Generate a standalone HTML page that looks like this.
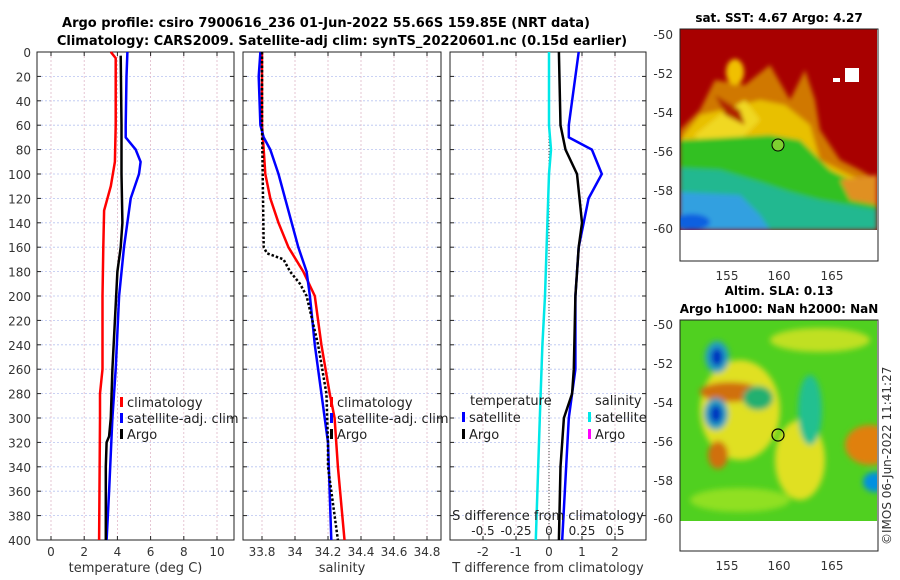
<!DOCTYPE html>
<html><head><meta charset="utf-8"><style>
body{margin:0;background:#fff;}
svg{display:block;font-family:"DejaVu Sans","Liberation Sans",sans-serif;}
</style></head><body>
<svg id="c" width="900" height="580" viewBox="0 0 900 580">
<defs>
<filter id="bl" x="-10%" y="-10%" width="120%" height="120%"><feGaussianBlur stdDeviation="2.5"/></filter>
<filter id="bl2" x="-10%" y="-10%" width="120%" height="120%"><feGaussianBlur stdDeviation="3"/></filter>
<clipPath id="m1"><rect x="680" y="29" width="197" height="201"/></clipPath>
<clipPath id="m2"><rect x="680" y="320" width="197" height="201"/></clipPath>
</defs>
<text x="326" y="27" text-anchor="middle" font-size="13" font-weight="bold">Argo profile: csiro 7900616_236 01-Jun-2022 55.66S 159.85E (NRT data)</text>
<text x="342" y="45" text-anchor="middle" font-size="13" font-weight="bold">Climatology: CARS2009. Satellite-adj clim: synTS_20220601.nc (0.15d earlier)</text>

<g>
<text x="779" y="22" text-anchor="middle" font-size="12" font-weight="bold">sat. SST: 4.67 Argo: 4.27</text>
<g clip-path="url(#m1)">
<rect x="680" y="29" width="197" height="201" fill="#a80000"/>
<g filter="url(#bl)">
<path d="M680 130 L700 110 L715 80 L745 85 L770 65 L790 100 L805 70 L815 100 L820 130 L840 160 L860 170 L877 180 L877 230 L680 230Z" fill="#d07800"/>
<path d="M680 140 L700 115 L730 108 L760 100 L785 105 L810 125 L820 160 L850 175 L877 185 L877 230 L680 230Z" fill="#e8c000"/>
<path d="M695 135 L720 115 L745 100 L760 120 L740 140 L700 150Z" fill="#f0d820"/>
<ellipse cx="735" cy="72" rx="9" ry="13" fill="#f0c000"/>
<path d="M715 95 L740 110 L745 125 L725 115Z" fill="#b02000"/>
<path d="M680 140 L720 138 L770 135 L800 140 L830 170 L860 185 L877 190 L877 230 L680 230Z" fill="#30c020"/>
<path d="M680 168 L720 170 L760 182 L790 192 L820 200 L877 210 L877 230 L680 230Z" fill="#20b890"/>
<path d="M680 192 L740 195 L760 215 L770 230 L680 230Z" fill="#30a0e0"/>
<ellipse cx="692" cy="222" rx="18" ry="8" fill="#1060e0"/>
<path d="M840 180 L877 175 L877 205 L850 200Z" fill="#e09020"/>
</g>
</g>
<rect x="833" y="78" width="7" height="4" fill="#fff"/><rect x="845" y="68" width="14" height="14" fill="#fff"/>
<rect x="680" y="29" width="198" height="232" fill="none" stroke="#222" stroke-width="1"/>
<circle cx="778" cy="145" r="6" fill="#7ed030" stroke="#000" stroke-width="1"/>
<g font-size="12" fill="#333" text-anchor="end">
<text x="673" y="39">-50</text><text x="673" y="78">-52</text><text x="673" y="117">-54</text><text x="673" y="156">-56</text><text x="673" y="195">-58</text><text x="673" y="233">-60</text></g>
<g font-size="12" fill="#333" text-anchor="middle">
<text x="727" y="280">155</text><text x="779" y="280">160</text><text x="832" y="280">165</text></g>
</g>

<g>
<text x="779" y="295" text-anchor="middle" font-size="12" font-weight="bold">Altim. SLA: 0.13</text>
<text x="779" y="313" text-anchor="middle" font-size="12" font-weight="bold">Argo h1000: NaN h2000: NaN</text>
<g clip-path="url(#m2)">
<rect x="680" y="320" width="197" height="201" fill="#50d020"/>
<g filter="url(#bl2)">
<ellipse cx="740" cy="410" rx="40" ry="50" fill="#e0e020"/>
<ellipse cx="730" cy="392" rx="30" ry="10" fill="#d07010"/>
<ellipse cx="718" cy="455" rx="10" ry="14" fill="#d07010"/>
<ellipse cx="870" cy="445" rx="25" ry="20" fill="#e08010"/>
<ellipse cx="800" cy="460" rx="25" ry="40" fill="#e0e020"/>
<ellipse cx="740" cy="500" rx="50" ry="12" fill="#90e020"/>
<ellipse cx="820" cy="340" rx="50" ry="12" fill="#c0e020"/>
<ellipse cx="758" cy="398" rx="15" ry="12" fill="#20b070"/>
<ellipse cx="810" cy="410" rx="12" ry="35" fill="#20c090"/>
<ellipse cx="717" cy="357" rx="12" ry="16" fill="#20a0c0"/>
<ellipse cx="717" cy="357" rx="6" ry="9" fill="#0030c0"/>
<ellipse cx="716" cy="414" rx="12" ry="16" fill="#20a0c0"/>
<ellipse cx="716" cy="414" rx="6" ry="9" fill="#0030c0"/>
<ellipse cx="875" cy="482" rx="12" ry="10" fill="#0090e0"/>
</g>
</g>
<rect x="680" y="320" width="198" height="231" fill="none" stroke="#222" stroke-width="1"/>
<circle cx="778" cy="435" r="6" fill="none" stroke="#000" stroke-width="1.2"/>
<g font-size="12" fill="#333" text-anchor="end">
<text x="673" y="329">-50</text><text x="673" y="368">-52</text><text x="673" y="407">-54</text><text x="673" y="446">-56</text><text x="673" y="485">-58</text><text x="673" y="523">-60</text></g>
<g font-size="12" fill="#333" text-anchor="middle">
<text x="727" y="570">155</text><text x="779" y="570">160</text><text x="832" y="570">165</text></g>
<text transform="translate(891,545) rotate(-90)" font-size="12" fill="#333">©IMOS 06-Jun-2022 11:41:27</text>
</g>
</svg>
<script>
// data
const depthsT = [0,5,20,60,90,110,130,160,200,260,280,300,400];
const tempClim = [3.6,3.9,3.9,3.9,3.85,3.6,3.2,3.15,3.1,3.1,2.95,2.95,2.9];
const depthsSat = [0,20,60,70,80,90,100,120,160,200,260,300,360,400];
const tempSat = [4.6,4.55,4.5,4.5,5.1,5.4,5.3,4.8,4.4,4.1,3.9,3.7,3.5,3.35];
const depthsArgo = [3,60,100,140,160,180,220,260,300,315,320,340,400];
const tempArgo = [4.2,4.25,4.25,4.3,4.2,4.0,3.85,3.7,3.6,3.5,3.35,3.3,3.3];
const salDepthsClim = [0,60,80,100,120,140,160,180,200,240,280,300,340,400];
const salClim = [33.8,33.8,33.81,33.82,33.85,33.9,33.96,34.05,34.12,34.16,34.21,34.24,34.26,34.3];
const salDepthsSat = [0,20,60,70,80,100,120,160,180,200,240,280,320,400];
const salSat = [33.79,33.78,33.79,33.81,33.85,33.9,33.94,34.02,34.07,34.09,34.12,34.16,34.2,34.22];
const salDepthsArgo = [0,60,160,165,170,180,190,200,240,280,320,340,400];
const salArgo = [33.8,33.8,33.81,33.83,33.93,33.97,34.03,34.07,34.14,34.19,34.2,34.2,34.26];
const diffDepthsSat = [0,60,70,80,100,120,160,200,260,300,400];
const tDiffSat = [0.9,0.6,0.6,1.3,1.6,1.2,0.9,0.8,0.8,0.6,0.4];
const diffDepthsArgo = [0,60,80,100,140,160,200,260,280,300,320,340,400];
const tDiffArgo = [0.3,0.35,0.5,0.85,1.0,0.9,0.8,0.75,0.7,0.45,0.4,0.35,0.3];
const sDiffDepths = [0,60,80,100,200,240,300,400];
const sDiffSat = [0,0,0.015,0,-0.03,-0.05,-0.07,-0.1];
const depthTicks = [0,20,40,60,80,100,120,140,160,180,200,220,240,260,280,300,320,340,360,380,400];
const tempTicks = [0,2,4,6,8,10];
const salTicks = [33.8,34,34.2,34.4,34.6,34.8];
const tDiffTicks = [-2,-1,0,1,2];
const sDiffTicks = [-0.5,-0.25,0,0.25,0.5];

const NS='http://www.w3.org/2000/svg';
const svg=document.getElementById('c');
function mk(tag,at,parent){const e=document.createElementNS(NS,tag);for(const k in at)e.setAttribute(k,at[k]);(parent||svg).appendChild(e);return e;}
const Y0=52,Y1=540;
const yScale=d=>Y0+(d/400)*(Y1-Y0);
function lin(d0,d1,r0,r1){return v=>r0+(v-d0)/(d1-d0)*(r1-r0);}
const panels=[
 {name:'temperature-panel',x0:37,x1:234,sx:lin(0,10,51,217),ticks:tempTicks,label:'temperature (deg C)',showY:true},
 {name:'salinity-panel',x0:243,x1:441,sx:lin(33.8,34.8,262,427),ticks:salTicks,label:'salinity'},
 {name:'difference-panel',x0:450,x1:646,sx:lin(-2,2,483,615),ticks:tDiffTicks,label:'T difference from climatology'}
];
panels.forEach(p=>{
 const g=mk('g',{});
 
 
 depthTicks.forEach(d=>{const l=mk('line',{x1:p.x0,x2:p.x1,y1:yScale(d),y2:yScale(d),stroke:'#b8c4f0','stroke-width':0.8,'stroke-dasharray':'2,2'},g);
  
  mk('line',{x1:p.x0,x2:p.x0+4,y1:yScale(d),y2:yScale(d),stroke:'#222'},g);
  mk('line',{x1:p.x1,x2:p.x1-4,y1:yScale(d),y2:yScale(d),stroke:'#222'},g);
  if(p.showY){const t=mk('text',{x:p.x0-6,y:yScale(d)+5,'text-anchor':'end','font-size':12,fill:'#333'},g);t.textContent=d;
   }
 });
 p.ticks.forEach(v=>{const x=p.sx(v);
  const l=mk('line',{x1:x,x2:x,y1:Y0,y2:Y1,stroke:'#e0b8c8','stroke-width':0.8,'stroke-dasharray':'2,2'},g);
  
  mk('line',{x1:x,x2:x,y1:Y1,y2:Y1-4,stroke:'#222'},g);mk('line',{x1:x,x2:x,y1:Y0,y2:Y0+4,stroke:'#222'},g);
  const t=mk('text',{x:x,y:556,'text-anchor':'middle','font-size':12,fill:'#333'},g);t.textContent=v;
  
 });
 mk('rect',{x:p.x0,y:Y0,width:p.x1-p.x0,height:Y1-Y0,fill:'none',stroke:'#222','stroke-width':1},g);
 const t=mk('text',{x:(p.x0+p.x1)/2,y:572,'text-anchor':'middle','font-size':13,fill:'#333'},g);t.textContent=p.label;
 
});
const sDiffX=lin(-0.5,0.5,483,615);
const zl=mk('line',{x1:panels[2].sx(0),x2:panels[2].sx(0),y1:Y0,y2:Y1,stroke:'#444','stroke-dasharray':'1,2'});

function series(depths,vals,sx,color,name,dash){
 const pts=depths.map((d,i)=>sx(vals[i]).toFixed(1)+','+yScale(d).toFixed(1)).join(' ');
 const pl=mk('polyline',{points:pts,fill:'none',stroke:color,'stroke-width':2.5,'stroke-linejoin':'round'});
 if(dash)pl.setAttribute('stroke-dasharray',dash);
 
 
}
series(depthsT,tempClim,panels[0].sx,'#f00','temp-climatology-line');
series(depthsSat,tempSat,panels[0].sx,'#00f','temp-satellite-line');
series(depthsArgo,tempArgo,panels[0].sx,'#000','temp-argo-line');
series(salDepthsClim,salClim,panels[1].sx,'#f00','sal-climatology-line');
series(salDepthsSat,salSat,panels[1].sx,'#00f','sal-satellite-line');
series(salDepthsArgo,salArgo,panels[1].sx,'#000','sal-argo-line','2.5,2');
series(sDiffDepths,sDiffSat,sDiffX,'#00e8e8','sal-diff-satellite-line');
series(diffDepthsSat,tDiffSat,panels[2].sx,'#00f','temp-diff-satellite-line');
series(diffDepthsArgo,tDiffArgo,panels[2].sx,'#000','temp-diff-argo-line');
const st=mk('text',{x:548,y:520,'text-anchor':'middle','font-size':13,fill:'#222'});st.textContent='S difference from climatology';

sDiffTicks.forEach(v=>{const t=mk('text',{x:sDiffX(v),y:535,'text-anchor':'middle','font-size':12,fill:'#222'});t.textContent=v;
 });
function legend(x,y,color,label,name){
 const g=mk('g',{});
 mk('rect',{x:x,y:y-10,width:3,height:10,fill:color},g);
 const t=mk('text',{x:x+7,y:y,'font-size':13,fill:'#222'},g);t.textContent=label;
}
legend(120,407,'#f00','climatology','legend-temp-climatology');
legend(120,423,'#00f','satellite-adj. clim','legend-temp-satellite');
legend(120,439,'#000','Argo','legend-temp-argo');
legend(330,407,'#f00','climatology','legend-sal-climatology');
legend(330,423,'#00f','satellite-adj. clim','legend-sal-satellite');
legend(330,439,'#000','Argo','legend-sal-argo');
const lt=mk('text',{x:470,y:405,'font-size':13,fill:'#222'});lt.textContent='temperature';

const ls=mk('text',{x:595,y:405,'font-size':13,fill:'#222'});ls.textContent='salinity';

legend(462,422,'#00f','satellite','legend-tdiff-satellite');
legend(462,439,'#000','Argo','legend-tdiff-argo');
legend(588,422,'#00e8e8','satellite','legend-sdiff-satellite');
legend(588,439,'#f0f','Argo','legend-sdiff-argo');
</script>
</body></html>
